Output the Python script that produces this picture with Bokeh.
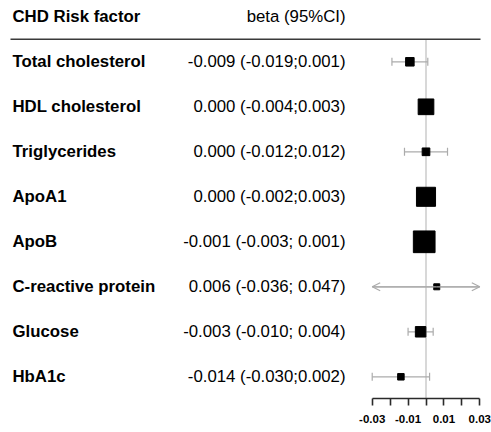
import numpy as np
from bokeh.plotting import figure
from bokeh.models import Range1d, FixedTicker, ColumnDataSource, Arrow, OpenHead, PrintfTickFormatter
from bokeh.core.properties import value
from bokeh.embed import file_html
from bokeh.resources import INLINE

# ---------------- data ----------------
factors = ["Total cholesterol", "HDL cholesterol", "Triglycerides", "ApoA1",
           "ApoB", "C-reactive protein", "Glucose", "HbA1c"]
beta = [-0.009, 0.000, 0.000, 0.000, -0.001, 0.006, -0.003, -0.014]
lower = [-0.019, -0.004, -0.012, -0.002, -0.003, -0.036, -0.010, -0.030]
upper = [0.001, 0.003, 0.012, 0.003, 0.001, 0.047, 0.004, 0.002]
ci_text = ["-0.009 (-0.019;0.001)", "0.000 (-0.004;0.003)", "0.000 (-0.012;0.012)",
           "0.000 (-0.002;0.003)", "-0.001 (-0.003; 0.001)", "0.006 (-0.036; 0.047)",
           "-0.003 (-0.010; 0.004)", "-0.014 (-0.030;0.002)"]
header_left = "CHD Risk factor"
header_right = "beta (95%CI)"
labelled_ticks = [-0.03, -0.01, 0.01, 0.03]
unlabelled_ticks = [-0.02, 0.0, 0.02]
axis_limits = (-0.03, 0.03)

# ---------------- layout constants (pixels) ----------------
W, H = 491, 432
BOTTOM = 34
ZERO_PX = 425.5          # x pixel of value 0
PX_PER_UNIT = 1793.0
ROW0_PX = 61.3           # y pixel of first row
ROW_PX = 45.0
FRAME_H = H - BOTTOM

def px2x(px):
    return (px - ZERO_PX) / PX_PER_UNIT

def py2row(py):
    return (py - ROW0_PX) / ROW_PX

rows = list(range(len(factors)))
grey = "#ABABAB"

p = figure(width=W, height=H, output_backend="svg", toolbar_location=None,
           x_range=Range1d(px2x(0), px2x(W)),
           y_range=Range1d(py2row(FRAME_H), py2row(0)),
           y_axis_location=None,
           min_border_left=0, min_border_right=0, min_border_top=0,
           min_border_bottom=BOTTOM, outline_line_color=None,
           background_fill_color="white", border_fill_color="white")
p.xgrid.visible = False
p.ygrid.visible = False

# zero line
p.segment(x0=[0], y0=[-0.5], x1=[0], y1=[py2row(FRAME_H)], line_color="#BEBEBE", line_width=1.2)
# header separator
p.segment(x0=[px2x(10)], y0=[-0.5], x1=[px2x(480)], y1=[-0.5], line_color="#3A3A3A", line_width=1.5)

lo_c = [max(l, axis_limits[0]) for l in lower]
hi_c = [min(h, axis_limits[1]) for h in upper]
p.segment(x0=lo_c, y0=rows, x1=hi_c, y1=rows, line_color=grey, line_width=1.2)

# caps where not clipped, arrows where clipped
cap_x, cap_y = [], []
arr = dict(xs=[], xe=[], y=[])
for i in rows:
    for v, c in ((lower[i], lo_c[i]), (upper[i], hi_c[i])):
        if v == c:
            cap_x.append(c); cap_y.append(i)
        else:
            arr["xs"].append(beta[i]); arr["xe"].append(c); arr["y"].append(i)
p.scatter(x=cap_x, y=cap_y, marker="dash", angle=np.pi / 2, size=8, line_color=grey, line_width=1.2)
p.add_layout(Arrow(end=OpenHead(size=8, line_color=grey, line_width=1.2),
                   x_start="xs", y_start="y", x_end="xe", y_end="y",
                   source=ColumnDataSource(arr), line_color=grey, line_width=1.2))

# boxes sized by precision
widths = np.array(upper) - np.array(lower)
sizes = np.maximum(6.0, 21.7 * (widths.min() / widths) ** 0.58)
p.scatter(x=beta, y=rows, marker="square", size=sizes, fill_color="black", line_color="black")

font = value("Liberation Sans")
FS = "16.8px"
p.text(x=[px2x(12)], y=[-1], text=[header_left], text_font=font, text_font_style="bold",
       text_font_size=FS, text_baseline="middle", text_align="left", text_color="black")
p.text(x=[px2x(345)], y=[-1], text=[header_right], text_font=font,
       text_font_size=FS, text_baseline="middle", text_align="right", text_color="black")
p.text(x=[px2x(12)] * len(rows), y=rows, text=factors, text_font=font, text_font_style="bold",
       text_font_size=FS, text_baseline="middle", text_align="left", text_color="black")
p.text(x=[px2x(345)] * len(rows), y=rows, text=ci_text, text_font=font,
       text_font_size=FS, text_baseline="middle", text_align="right", text_color="black")

ax = p.xaxis[0]
ax.ticker = FixedTicker(ticks=labelled_ticks, minor_ticks=unlabelled_ticks)
ax.formatter = PrintfTickFormatter(format="%.2f")
ax.bounds = axis_limits
ax.axis_line_color = "#2A2A2A"
ax.axis_line_width = 1.6
ax.major_tick_line_color = "#2A2A2A"
ax.major_tick_line_width = 1.6
ax.minor_tick_line_color = "#2A2A2A"
ax.minor_tick_line_width = 1.6
ax.major_tick_in = 0
ax.major_tick_out = 7
ax.minor_tick_in = 0
ax.minor_tick_out = 7
ax.major_label_standoff = 9
ax.major_label_text_font = "Liberation Sans"
ax.major_label_text_font_style = "bold"
ax.major_label_text_font_size = "11.5px"
ax.major_label_text_color = "black"

open("out.html", "w").write(file_html(p, INLINE))
